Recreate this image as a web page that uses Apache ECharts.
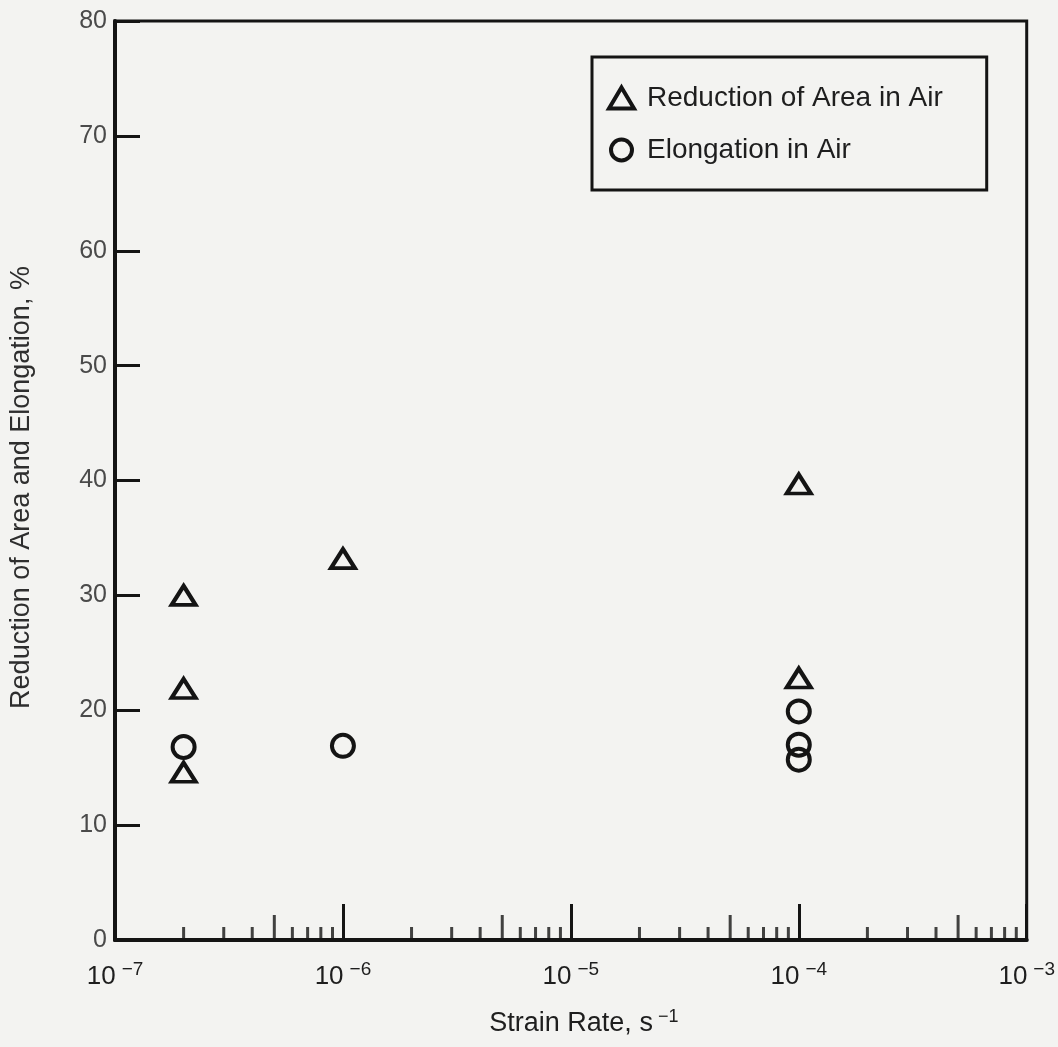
<!DOCTYPE html>
<html>
<head>
<meta charset="utf-8">
<script src="https://cdn.jsdelivr.net/npm/echarts@6/dist/echarts.min.js"></script>
<style>
html,body{margin:0;padding:0;background:#f3f3f1;}
#c{width:1058px;height:1047px;}
</style>
</head>
<body>
<div id="c"></div>
<script>
// ---- data ----
const raStrain = [2e-7, 2e-7, 2e-7, 1e-6, 1e-4, 1e-4];
const raValues = [30.0, 21.9, 14.6, 33.2, 39.7, 22.8];
const elStrain = [2e-7, 1e-6, 1e-4, 1e-4, 1e-4];
const elValues = [16.8, 16.9, 19.9, 17.0, 15.7];
const seriesNames = ['Reduction of Area in Air', 'Elongation in Air'];
// axis ticks
const yTicks = [0, 10, 20, 30, 40, 50, 60, 70, 80];
const decades = [1e-7, 1e-6, 1e-5, 1e-4];
const shortMult = [2, 3, 4, 6, 7, 8, 9];
const midMult = [5];

const ink = '#141414';
const font = 'Liberation Sans, Arial, Helvetica, sans-serif';
const shortTicks = [];
const midTicks = [];
decades.forEach(d => {
  shortMult.forEach(m => shortTicks.push([d * m, 0]));
  midMult.forEach(m => midTicks.push([d * m, 0]));
});

const chart = echarts.init(document.getElementById('c'));
chart.setOption({
  backgroundColor: '#f3f3f1',
  animation: false,
  grid: {
    left: 112, right: 31, top: 21, bottom: 107,
    show: true, borderColor: ink, borderWidth: 3, backgroundColor: 'transparent'
  },
  legend: {
    orient: 'vertical',
    left: 592, top: 57,
    data: seriesNames,
    itemWidth: 25, itemHeight: 21, itemGap: 24,
    padding: [27, 44, 26, 15],
    borderColor: ink, borderWidth: 3,
    itemStyle: { color: 'rgba(0,0,0,0)', borderColor: ink, borderWidth: 4 },
    textStyle: { fontFamily: font, fontSize: 28, color: '#1e1e1e', padding: [0, 0, 0, 8] },
    selectedMode: false
  },
  xAxis: {
    type: 'log', logBase: 10, min: 1e-7, max: 1e-3,
    name: '{n|Strain Rate, s}{s|−1}',
    nameLocation: 'middle', nameGap: 68,
    nameTextStyle: {
      padding: [0, 0, 0, 26],
      rich: {
        n: { fontFamily: font, fontSize: 27, color: '#1e1e1e' },
        s: { fontFamily: font, fontSize: 18, color: '#1e1e1e', padding: [0, 0, 13, 5] }
      }
    },
    axisLine: { lineStyle: { color: ink, width: 4 } },
    axisTick: { inside: true, length: 36, lineStyle: { color: ink, width: 3 } },
    splitLine: { show: false },
    minorTick: { show: false },
    axisLabel: {
      margin: 20,
      formatter: v => '{b|10}{s|−' + Math.round(-Math.log10(v)) + '}',
      rich: {
        b: { fontFamily: font, fontSize: 26, color: '#1e1e1e' },
        s: { fontFamily: font, fontSize: 19, color: '#1e1e1e', padding: [0, 0, 14, 6] }
      }
    }
  },
  yAxis: {
    type: 'value', min: yTicks[0], max: yTicks[yTicks.length - 1], interval: 10,
    name: 'Reduction of Area and Elongation, %',
    nameLocation: 'middle', nameGap: 80,
    nameTextStyle: { fontFamily: font, fontSize: 27, color: '#2e2e2e', padding: [0, 14, 0, 0] },
    axisLine: { show: true, lineStyle: { color: ink, width: 4 } },
    axisTick: { inside: true, length: 25, lineStyle: { color: ink, width: 3 } },
    splitLine: { show: false },
    axisLabel: { margin: 8, fontFamily: font, fontSize: 25, color: '#4a4a4a' }
  },
  series: [
    {
      name: seriesNames[0], type: 'scatter', symbol: 'triangle', symbolSize: [24, 19],
      data: raStrain.map((x, i) => [x, raValues[i]]),
      itemStyle: { color: 'rgba(0,0,0,0)', borderColor: ink, borderWidth: 4, opacity: 1 },
      z: 5
    },
    {
      name: seriesNames[1], type: 'scatter', symbol: 'circle', symbolSize: 22,
      data: elStrain.map((x, i) => [x, elValues[i]]),
      itemStyle: { color: 'rgba(0,0,0,0)', borderColor: ink, borderWidth: 4, opacity: 1 },
      z: 5
    },
    {
      name: 'minorShort', type: 'scatter', symbol: 'rect', symbolSize: [3, 13], symbolOffset: [0, -6.5],
      data: shortTicks, itemStyle: { color: ink }, silent: true, z: 3
    },
    {
      name: 'minorMid', type: 'scatter', symbol: 'rect', symbolSize: [3, 25], symbolOffset: [0, -12.5],
      data: midTicks, itemStyle: { color: ink }, silent: true, z: 3
    }
  ]
});
</script>
</body>
</html>
